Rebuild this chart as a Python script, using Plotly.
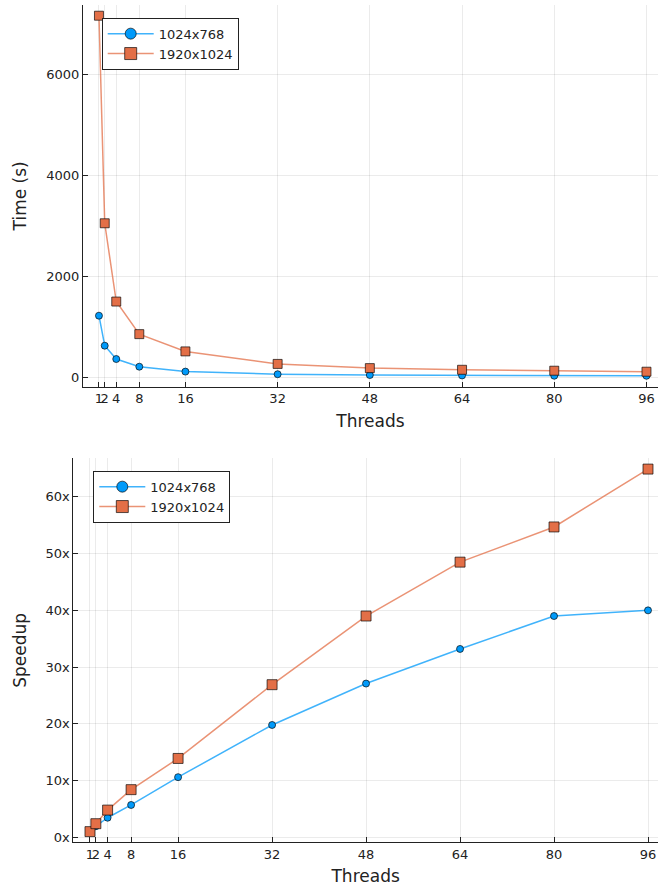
import plotly.graph_objects as go

threads = [1, 2, 4, 8, 16, 32, 48, 64, 80, 96]
labels = ["1024x768", "1920x1024"]
time_1024 = [1220, 626, 362, 210, 113, 61, 45, 37, 31, 30]
time_1920 = [7160, 3050, 1500, 855, 513, 265, 182, 149, 131, 111]
speedup_1024 = [1.0, 1.95, 3.45, 5.7, 10.6, 19.8, 27.1, 33.2, 39.0, 40.0]
speedup_1920 = [1.0, 2.4, 4.8, 8.4, 13.9, 26.9, 39.0, 48.5, 54.7, 64.9]
time_ticks = [0, 2000, 4000, 6000]
speed_ticks = [0, 10, 20, 30, 40, 50, 60]
speed_tick_text = [f"{v}x" for v in speed_ticks]

W, H = 659, 890
BLUE = "#009AFA"
ORANGE = "#E36F47"
FONT = "DejaVu Sans"
BLUE_LINE = "rgba(0,154,250,0.75)"
ORANGE_LINE = "rgba(227,111,71,0.75)"
EDGE = "rgba(0,0,0,0.65)"

def px_x(p):
    return p / W

def px_y(p):
    return 1 - p / H

fig = go.Figure()

def add_series(x, y, color, lcolor, symbol, size, xa, ya):
    fig.add_trace(go.Scatter(
        x=x, y=y, mode="lines+markers", showlegend=False, hoverinfo="x+y",
        line=dict(color=lcolor, width=1.5),
        marker=dict(color=color, symbol=symbol, size=size,
                    line=dict(color=EDGE, width=1)),
        xaxis=xa, yaxis=ya, cliponaxis=False))

def add_legend_entry(name, color, lcolor, symbol, size, xa, ya, leg):
    fig.add_trace(go.Scatter(
        x=[None], y=[None], name=name, mode="lines+markers",
        line=dict(color=lcolor, width=1.5),
        marker=dict(color=color, symbol=symbol, size=size,
                    line=dict(color=EDGE, width=1)),
        xaxis=xa, yaxis=ya, legend=leg))

add_series(threads, time_1024, BLUE, BLUE_LINE, "circle", 7, "x", "y")
add_series(threads, time_1920, ORANGE, ORANGE_LINE, "square", 9, "x", "y")
add_series(threads, speedup_1024, BLUE, BLUE_LINE, "circle", 7, "x2", "y2")
add_series(threads, speedup_1920, ORANGE, ORANGE_LINE, "square", 10, "x2", "y2")

add_legend_entry(labels[0], BLUE, BLUE_LINE, "circle", 11, "x", "y", "legend")
add_legend_entry(labels[1], ORANGE, ORANGE_LINE, "square", 12, "x", "y", "legend")
add_legend_entry(labels[0], BLUE, BLUE_LINE, "circle", 11, "x2", "y2", "legend2")
add_legend_entry(labels[1], ORANGE, ORANGE_LINE, "square", 12, "x2", "y2", "legend2")

axis_common = dict(
    showline=True, linecolor="#222", linewidth=1,
    showgrid=True, gridcolor="rgba(0,0,0,0.08)", gridwidth=1,
    ticks="inside", ticklen=5, tickcolor="#222", tickwidth=1,
    tickfont=dict(family=FONT, size=13, color="#222"),
    zeroline=False, automargin=False, mirror=False, tickangle=0,
)

legend_common = dict(
    xanchor="left", yanchor="top",
    bgcolor="white", bordercolor="#222", borderwidth=1,
    font=dict(family=FONT, size=13, color="#222"), itemwidth=46,
    tracegroupgap=0,
)

TITLE_FONT = dict(size=17, family=FONT, color="#222")

fig.update_layout(
    width=W, height=H, template="none",
    margin=dict(l=0, r=0, t=0, b=0),
    paper_bgcolor="white", plot_bgcolor="white",
    font=dict(family=FONT, color="#222"),
    xaxis=dict(axis_common, domain=[px_x(83), px_x(658)], range=[-1.77, 98],
               tickvals=threads, anchor="y",
               title=dict(text="Threads", font=TITLE_FONT, standoff=9)),
    yaxis=dict(axis_common, domain=[px_y(386.7), px_y(5)], range=[-186, 7372],
               tickvals=time_ticks, anchor="x",
               title=dict(text="Time (s)", font=TITLE_FONT, standoff=15)),
    xaxis2=dict(axis_common, domain=[px_x(73.3), px_x(658)], range=[-1.84, 97.7],
                tickvals=threads, anchor="y2",
                title=dict(text="Threads", font=TITLE_FONT, standoff=9)),
    yaxis2=dict(axis_common, domain=[px_y(842.3), px_y(458.3)], range=[-0.88, 66.8],
                tickvals=speed_ticks, ticktext=speed_tick_text, anchor="x2",
                title=dict(text="Speedup", font=TITLE_FONT, standoff=14)),
    legend=dict(legend_common, x=px_x(101.7), y=px_y(17.7)),
    legend2=dict(legend_common, x=px_x(93.3), y=px_y(470.7)),
    showlegend=True,
)

fig.write_html("out.html", post_script="document.body.style.margin='0px';",
               config={"displayModeBar": False})
